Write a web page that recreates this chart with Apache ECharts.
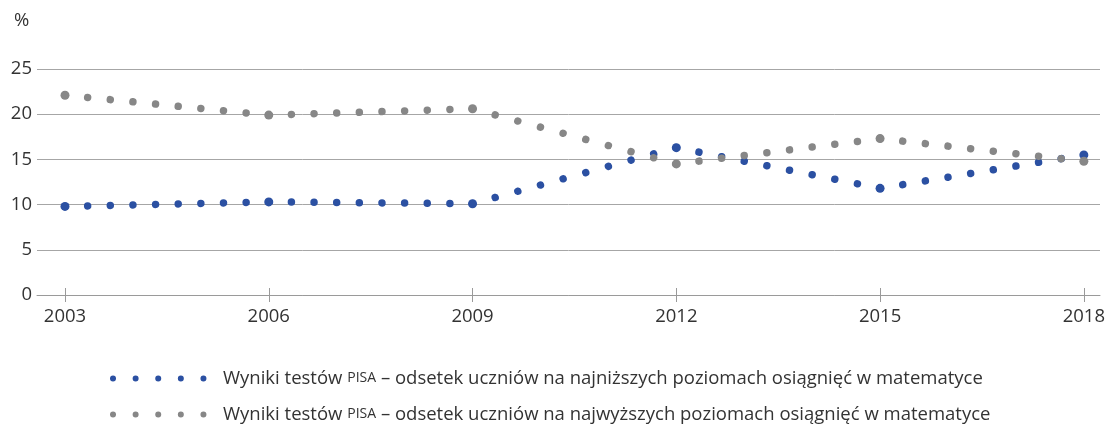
<!DOCTYPE html>
<html>
<head>
<meta charset="utf-8">
<script src="https://cdn.jsdelivr.net/npm/echarts@6/dist/echarts.min.js"></script>
<style>
  html, body { margin: 0; padding: 0; background: #fff; }
  #chart { width: 1108px; height: 430px; }
</style>
</head>
<body>
<div id="chart"></div>
<script>
// dane
var years = ['2003', '2006', '2009', '2012', '2015', '2018'];
var lowest = [9.8, 10.3, 10.1, 16.3, 11.8, 15.5];
var highest = [22.1, 19.9, 20.6, 14.5, 17.3, 14.8];
var seriesNames = [
    'Wyniki testów PISA – odsetek uczniów na najniższych poziomach osiągnięć w matematyce',
    'Wyniki testów PISA – odsetek uczniów na najwyższych poziomach osiągnięć w matematyce'
];

var FONT = 'Open Sans';
var FS = 18.5;
var BLUE = '#2b50a2', GREY = '#878787';
var gridTop = 69, gridBottom = 135;

var myChart = echarts.init(document.getElementById('chart'));

// kropkowana linia: 9 kropek na każdy odcinek między pomiarami
function dottedSegments(values, color) {
    return function (params, api) {
        var i = params.dataIndex;
        if (i >= values.length - 1) return null;
        var p0 = api.coord([i, values[i]]);
        var p1 = api.coord([i + 1, values[i + 1]]);
        var len = Math.sqrt(Math.pow(p1[0] - p0[0], 2) + Math.pow(p1[1] - p0[1], 2));
        var step = len / 9;
        return {
            type: 'line',
            silent: true,
            shape: { x1: p0[0], y1: p0[1], x2: p1[0], y2: p1[1] },
            style: {
                stroke: color,
                lineWidth: 7.5,
                lineCap: 'round',
                lineDash: [0.01, step - 0.01]
            }
        };
    };
}

function pairs(values) {
    return values.map(function (v, i) { return [i, v]; });
}

option = {
    animation: false,
    textStyle: { fontFamily: FONT, color: '#333' },
    graphic: [{
        type: 'text',
        left: 14, top: 11,
        style: { text: '%', fontSize: FS, fontFamily: FONT, fill: '#333' }
    }],
    legend: {
        orient: 'vertical',
        left: 105,
        top: 364,
        itemWidth: 105,
        itemHeight: 14,
        itemGap: 17,
        itemStyle: { opacity: 0 },
        lineStyle: { width: 6, opacity: 1 },
        data: seriesNames,
        formatter: function (name) {
            var parts = name.split('PISA');
            return '{a|' + parts[0] + '}{s|PISA}{a|' + parts[1] + '}';
        },
        textStyle: {
            rich: {
                a: { fontSize: FS, fontFamily: FONT, color: '#333' },
                s: { fontSize: 14, fontFamily: FONT, color: '#333' }
            }
        }
    },
    grid: [
        { left: 37, right: 8, top: gridTop, bottom: gridBottom },
        { left: 65, right: 24, top: gridTop, bottom: gridBottom }
    ],
    xAxis: [
        {
            gridIndex: 0, type: 'value', min: 0, max: 1,
            axisLine: { show: true, lineStyle: { color: '#9a9a9a', width: 1 } },
            axisTick: { show: false }, axisLabel: { show: false }, splitLine: { show: false }
        },
        {
            gridIndex: 1, type: 'category', data: years, boundaryGap: false, position: 'bottom',
            axisLine: { show: false },
            axisTick: { show: true, length: 7, lineStyle: { color: '#9a9a9a' } },
            axisLabel: { fontSize: FS, fontFamily: FONT, color: '#333', margin: 12 },
            splitLine: { show: false }
        },
        {
            gridIndex: 1, type: 'category', data: years, boundaryGap: false, position: 'bottom',
            axisLine: { show: false },
            axisTick: { show: true, inside: true, length: 7, lineStyle: { color: '#9a9a9a' } },
            axisLabel: { show: false },
            splitLine: { show: false }
        }
    ],
    yAxis: [
        {
            gridIndex: 0, type: 'value', min: 0, max: 25, interval: 5,
            axisLine: { show: false }, axisTick: { show: false },
            axisLabel: { fontSize: FS, fontFamily: FONT, color: '#333', margin: 5 },
            splitLine: { lineStyle: { color: '#a6a6a6', width: 1 } }
        },
        {
            gridIndex: 1, type: 'value', min: 0, max: 25, interval: 5,
            axisLine: { show: false }, axisTick: { show: false },
            axisLabel: { show: false }, splitLine: { show: false }
        }
    ],
    series: [
        {
            type: 'custom',
            xAxisIndex: 1, yAxisIndex: 1,
            data: pairs(lowest),
            encode: { x: 0, y: 1 },
            renderItem: dottedSegments(lowest, BLUE)
        },
        {
            name: seriesNames[0],
            type: 'line',
            xAxisIndex: 1, yAxisIndex: 1,
            data: lowest,
            symbol: 'circle', symbolSize: 9,
            itemStyle: { color: BLUE },
            lineStyle: { color: BLUE, width: 6, type: [0.01, 22.6], cap: 'round', opacity: 0 }
        },
        {
            type: 'custom',
            xAxisIndex: 1, yAxisIndex: 1,
            data: pairs(highest),
            encode: { x: 0, y: 1 },
            renderItem: dottedSegments(highest, GREY)
        },
        {
            name: seriesNames[1],
            type: 'line',
            xAxisIndex: 1, yAxisIndex: 1,
            data: highest,
            symbol: 'circle', symbolSize: 9,
            itemStyle: { color: GREY },
            lineStyle: { color: GREY, width: 6, type: [0.01, 22.6], cap: 'round', opacity: 0 }
        }
    ]
};

myChart.setOption(option);
</script>
</body>
</html>
